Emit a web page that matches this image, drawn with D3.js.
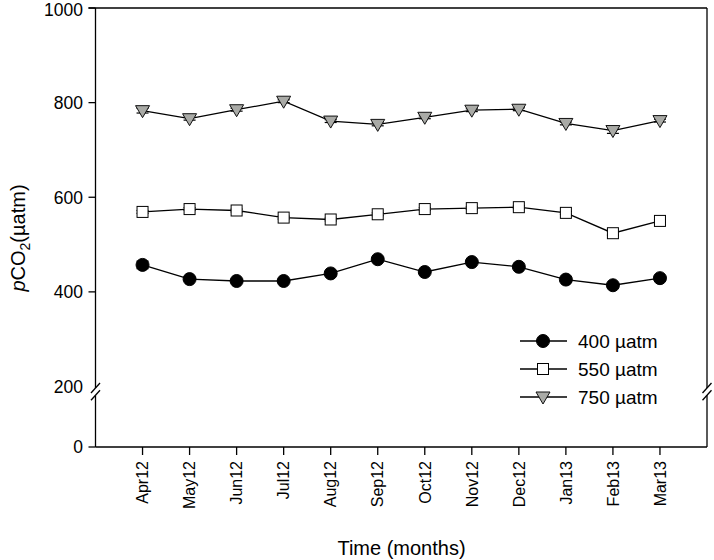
<!DOCTYPE html>
<html><head><meta charset="utf-8">
<script src="https://cdn.jsdelivr.net/npm/d3@7"></script>
<style>body{margin:0;background:#fff}svg{display:block}text{font-family:Arial,"Liberation Sans",sans-serif;fill:#000}</style>
</head><body>
<svg id="c" width="714" height="560"></svg>
<script>
const months = ["Apr12","May12","Jun12","Jul12","Aug12","Sep12","Oct12","Nov12","Dec12","Jan13","Feb13","Mar13"];
const s400 = [457,427,423,423,439,469,442,463,453,426,414,429];
const s550 = [569,575,572,557,553,564,575,577,579,567,524,550];
const s750 = [783,766,785,803,761,754,769,784,786,756,741,762];
const e400 = [8,3,3,3,3,3,3,3,3,3,3,3];
const e550 = [3,3,3,3,3,3,3,3,3,3,4,3];
const e750 = [5,3,3,3,3,3,3,3,3,3,6,3];
const upperTicks = [400,600,800,1000];
const lowerTicks = [0];
const legendLabels = ["400 \u00b5atm","550 \u00b5atm","750 \u00b5atm"];

const svg = d3.select("#c");
const L = 95.5, R = 707, T = 8, B = 447;
const x = d3.scaleLinear().domain([0, 13]).range([L, R]);
const yU = d3.scaleLinear().domain([200, 1000]).range([386.5, T]);
const yL = d3.scaleLinear().domain([0, 100]).range([B, 395]);

// frame
const g = svg.append("g").attr("stroke","#000").attr("stroke-width",1.3).attr("fill","none");
g.append("line").attr("x1",L-7).attr("x2",R).attr("y1",T).attr("y2",T);
g.append("line").attr("x1",L).attr("x2",R).attr("y1",B).attr("y2",B);
g.append("line").attr("x1",L).attr("x2",L).attr("y1",T).attr("y2",388);
g.append("line").attr("x1",L).attr("x2",L).attr("y1",395.3).attr("y2",B);
g.append("line").attr("x1",R).attr("x2",R).attr("y1",T).attr("y2",388);
g.append("line").attr("x1",R).attr("x2",R).attr("y1",395.3).attr("y2",B);
[388,395.3].forEach(yy=>{
  [L,R].forEach(xx=>{
    g.append("line").attr("x1",xx-4.5).attr("x2",xx+4.5).attr("y1",yy+5).attr("y2",yy-5);
  });
});

// y ticks
const ticks = upperTicks.map(v=>({v, y:yU(v)})).concat(lowerTicks.map(v=>({v,y:yL(v)})));
ticks.forEach(t=>{
  g.append("line").attr("x1",L-7).attr("x2",L).attr("y1",t.y).attr("y2",t.y);
  svg.append("text").attr("x",83).attr("y",Math.max(t.y, 9.5)).attr("dy","0.36em").attr("text-anchor","end")
    .attr("font-size",17.5).text(t.v);
});
svg.append("text").attr("x",83).attr("y",yU(200)).attr("dy","0.36em").attr("text-anchor","end")
  .attr("font-size",17.5).text(200);

// x ticks
months.forEach((m,i)=>{
  const xx = x(i+1);
  g.append("line").attr("x1",xx).attr("x2",xx).attr("y1",B).attr("y2",B+8);
  svg.append("text").attr("transform",`translate(${xx},${B+14}) rotate(-90)`)
    .attr("text-anchor","end").attr("dy","0.36em").attr("font-size",16).text(m);
});

// titles
svg.append("text").attr("x",401.5).attr("y",555).attr("text-anchor","middle").attr("font-size",20).text("Time (months)");
const yt = svg.append("text").attr("transform","translate(25,238) rotate(-90)").attr("text-anchor","middle").attr("font-size",20);
yt.append("tspan").attr("font-style","italic").text("p");
yt.append("tspan").text("CO");
yt.append("tspan").attr("font-size",14).attr("dy",5).text("2");
yt.append("tspan").attr("dy",-5).text("(\u00b5atm)");

const line = d3.line().x((d,i)=>x(i+1)).y(d=>yU(d));
const series = [
  {v:s400, e:e400, type:"circle"},
  {v:s550, e:e550, type:"square"},
  {v:s750, e:e750, type:"tri"}
];
function marker(sel, type, cx, cy){
  if(type==="circle") sel.append("circle").attr("cx",cx).attr("cy",cy).attr("r",6.5).attr("fill","#000").attr("stroke","#000");
  else if(type==="square") sel.append("rect").attr("x",cx-5.5).attr("y",cy-5.5).attr("width",11).attr("height",11).attr("fill","#fff").attr("stroke","#000").attr("stroke-width",1);
  else sel.append("path").attr("d",`M${cx-7},${cy-5}L${cx+7},${cy-5}L${cx},${cy+7}Z`).attr("fill","#a9aaa6").attr("stroke","#111").attr("stroke-width",1);
}
series.forEach(s=>{
  svg.append("path").attr("d",line(s.v)).attr("fill","none").attr("stroke","#000").attr("stroke-width",1.3);
  const eg = svg.append("g").attr("stroke","#000").attr("stroke-width",1.2);
  s.v.forEach((v,i)=>{
    const xx=x(i+1), y1=yU(v+s.e[i]), y2=yU(v-s.e[i]);
    eg.append("line").attr("x1",xx).attr("x2",xx).attr("y1",y1).attr("y2",y2);
    eg.append("line").attr("x1",xx-6).attr("x2",xx+6).attr("y1",y1).attr("y2",y1);
    eg.append("line").attr("x1",xx-6).attr("x2",xx+6).attr("y1",y2).attr("y2",y2);
  });
  const mg = svg.append("g");
  s.v.forEach((v,i)=>marker(mg, s.type, x(i+1), yU(v)));
});

// legend
const ly = [341, 369, 397];
series.forEach((s,k)=>{
  const lg = svg.append("g");
  lg.append("line").attr("x1",520).attr("x2",567).attr("y1",ly[k]).attr("y2",ly[k]).attr("stroke","#000").attr("stroke-width",1.3);
  marker(lg, s.type, 543, ly[k]);
  svg.append("text").attr("x",578).attr("y",ly[k]).attr("dy","0.36em").attr("font-size",19).text(legendLabels[k]);
});
</script>
</body></html>
